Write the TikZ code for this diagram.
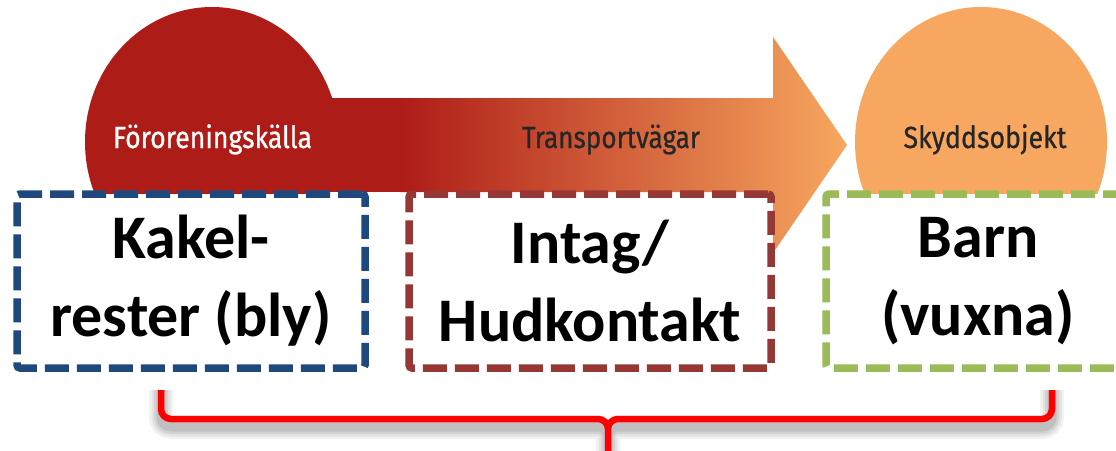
\documentclass[tikz,border=0pt]{standalone}
\usepackage{fontspec}
\setmainfont{Carlito}
\newfontfamily\labelfont[FakeBold=0.7]{Fira Sans}
\definecolor{srcred}{HTML}{AE1C17}
\definecolor{tgtorange}{HTML}{F7A75F}
\definecolor{boxblue}{HTML}{1F497D}
\definecolor{boxbrown}{HTML}{953735}
\definecolor{boxgreen}{HTML}{9BBB59}
\definecolor{labelgray}{HTML}{262626}
\definecolor{bracered}{HTML}{FF0000}
% squeeze a caption to a given width, keeping its height
\newcommand\fitcaption[2]{\resizebox{#1}{\height}{#2}}
\tikzset{
  stagelabel/.style={font=\labelfont\fontsize{30.5}{33}\selectfont, inner sep=0pt, anchor=base},
  itembox/.style={draw=#1, fill=white, line width=7.5pt, dash pattern=on 24pt off 8pt,
    rounded corners=3pt, minimum height=174pt, inner sep=0pt, align=center,
    font=\bfseries\fontsize{62}{78}\selectfont},
  bracepath/.style={rounded corners=10pt, line cap=butt},
}
\begin{document}
\begin{tikzpicture}[x=1pt,y=-1pt]
\useasboundingbox (0,0) rectangle (1116,450);
\fill[white] (0,0) rectangle (1116,450);

% source disc and receptor disc
\fill[srcred] (212,142) ellipse [x radius=127, y radius=135];
\fill[tgtorange] (981,142) ellipse [x radius=126, y radius=135];

% transport arrow: solid red start, then graded shaft and head
\fill[srcred] (300,98) rectangle (401,192);
\shade[left color=srcred, right color=tgtorange]
  (400,98) -- (773,98) -- (773,37) -- (847,145) -- (773,253) -- (773,192) -- (400,192) -- cycle;

% stage captions
\node[stagelabel, text=white] (srclabel) at (212.5,148) {\fitcaption{199pt}{Föroreningskälla}};
\node[stagelabel, text=labelgray] (pathlabel) at (611,148) {\fitcaption{178pt}{Transportvägar}};
\node[stagelabel, text=labelgray] (tgtlabel) at (985,148) {\fitcaption{163pt}{Skyddsobjekt}};

% dashed item boxes
\node[itembox=boxblue, minimum width=348pt] (source) at (191,281) {Kakel-\\rester (bly)};
\node[itembox=boxbrown, minimum width=362pt] (pathway) at (590,281) {Intag/\\Hudkontakt};
\node[itembox=boxgreen, minimum width=304pt] (receptor) at (978,281) {Barn\\(vuxna)};

% brace below the boxes, with a soft drop shadow
\coordinate (bl) at (161,390);
\coordinate (br) at (1052,390);
\coordinate (bm) at (608,455);
\foreach \w/\o in {24/0.05, 19/0.06, 14/0.07, 9/0.09} {
  \draw[bracepath, line width=\w pt, black, opacity=\o, shift={(3,8)}]
    (bl) -- (bl |- 0,419) -- (bm |- 0,419) -- (bm)
    (br) -- (br |- 0,419) -- (bm |- 0,419) -- (bm);
}
\draw[bracepath, line width=6.5pt, bracered]
  (bl) -- (bl |- 0,419) -- (bm |- 0,419) -- (bm)
  (br) -- (br |- 0,419) -- (bm |- 0,419) -- (bm);
\end{tikzpicture}
\end{document}
